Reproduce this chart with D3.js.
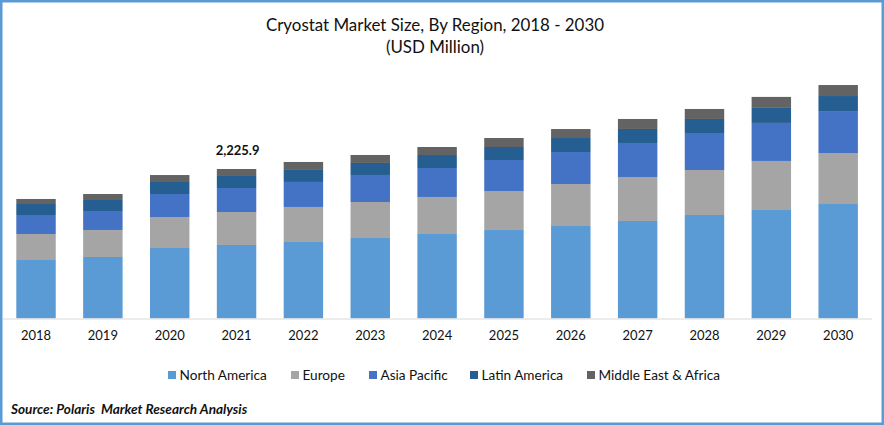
<!DOCTYPE html>
<html><head><meta charset="utf-8">
<script src="https://cdn.jsdelivr.net/npm/d3@7/dist/d3.min.js"></script>
<style>html,body{margin:0;padding:0;background:#fff}svg{display:block}text{font-family:Lato,"Open Sans",sans-serif;fill:#111}</style>
</head><body><div id="chart"></div>
<script>
const years = ["2018","2019","2020","2021","2022","2023","2024","2025","2026","2027","2028","2029","2030"];
const northAmerica = [869,914,1048,1093,1138,1197,1257,1317,1376,1451,1540,1615,1704];
const europe = [388,403,462,492,522,537,552,581,626,656,671,731,760];
const asiaPacific = [283,283,343,358,373,403,432,462,477,507,552,567,626];
const latinAmerica = [164,164,179,179,179,179,194,194,209,209,209,224,224];
const middleEastAfrica = [75,89,104,104,119,119,119,134,134,149,149,164,164];
const seriesNames = ["North America","Europe","Asia Pacific","Latin America","Middle East & Africa"];
const seriesColors = ["#5B9BD5","#A5A5A5","#4472C4","#255E91","#636363"];
const seriesValues = [northAmerica,europe,asiaPacific,latinAmerica,middleEastAfrica];
const annotatedYear = "2021", annotatedLabel = "2,225.9";

const W=884,H=425;
const svg=d3.select("#chart").append("svg").attr("width",W).attr("height",H);
svg.append("rect").attr("x",1.25).attr("y",1.25).attr("width",W-2.5).attr("height",H-2.5)
  .attr("fill","#fff").attr("stroke","#5B9BD5").attr("stroke-width",2.5);

const x=d3.scaleBand().domain(years).range([2.6,871.6]).paddingInner(.41).paddingOuter(.205);
const y=d3.scaleLinear().domain([0,3500]).range([318.3,318.3-3500/14.91]);

const rows=years.map((yr,i)=>{const o={year:yr};seriesNames.forEach((n,s)=>o[n]=seriesValues[s][i]);return o;});
const stack=d3.stack().keys(seriesNames)(rows);
svg.append("g").selectAll("g").data(stack).join("g").attr("fill",(d,i)=>seriesColors[i])
  .selectAll("rect").data(d=>d).join("rect")
  .attr("x",d=>x(d.data.year)).attr("width",x.bandwidth())
  .attr("y",d=>y(d[1])).attr("height",d=>y(d[0])-y(d[1]));

const axis=svg.append("g").attr("transform","translate(0,318.5)").call(d3.axisBottom(x).tickSize(0).tickPadding(12));
axis.select(".domain").attr("stroke","#D9D9D9").attr("stroke-width",1);
axis.selectAll("text").style("font-size","13px").style("font-family","Lato").attr("fill","#111");

const total=d3.sum(seriesValues,s=>s[years.indexOf(annotatedYear)]);
svg.append("text").attr("x",x(annotatedYear)+x.bandwidth()/2+1).attr("y",y(total)-14)
  .attr("text-anchor","middle").attr("font-size","13px").attr("font-weight",700).text(annotatedLabel);

svg.append("text").attr("x",435).attr("y",31).attr("text-anchor","middle").attr("font-size","16.9px").text("Cryostat Market Size, By Region, 2018 - 2030");
svg.append("text").attr("x",435).attr("y",53).attr("text-anchor","middle").attr("font-size","16.9px").text("(USD Million)");

const legendX=[168,291,369,470,587];
const lg=svg.append("g").selectAll("g").data(seriesNames).join("g").attr("transform",(d,i)=>`translate(${legendX[i]},371)`);
lg.append("rect").attr("width",8).attr("height",8).attr("fill",(d,i)=>seriesColors[i]);
lg.append("text").attr("x",11.5).attr("y",9).attr("font-size","13.6px").text(d=>d);

svg.append("text").attr("x",11).attr("y",414).attr("font-size","13.6px").attr("font-weight",700).attr("font-style","italic").style("white-space","pre").text("Source: Polaris  Market Research Analysis");
</script></body></html>
